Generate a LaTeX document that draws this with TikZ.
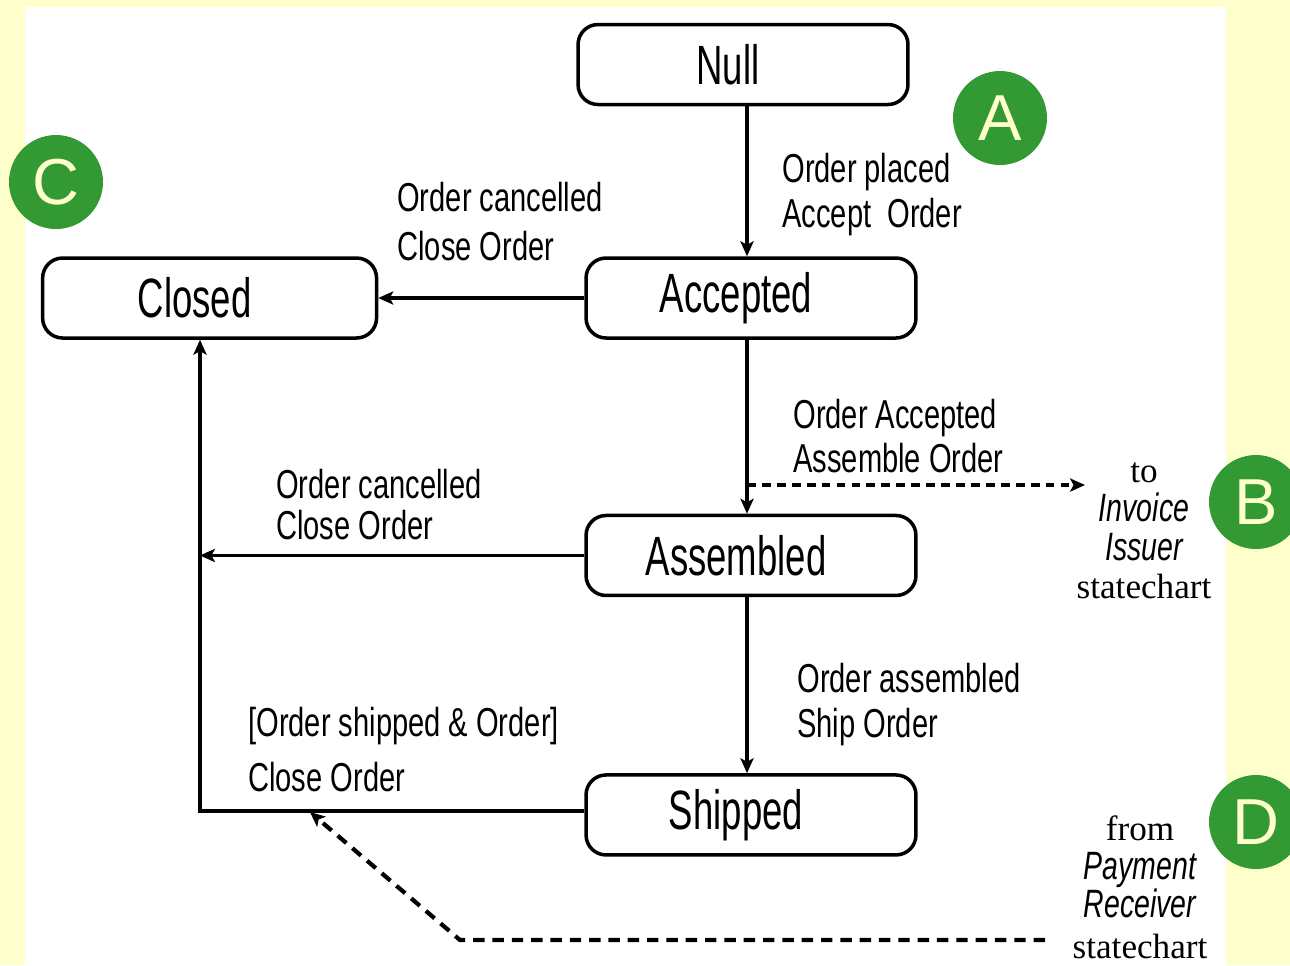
\documentclass[tikz,border=0pt]{standalone}
\usepackage{fontspec}
\usetikzlibrary{arrows.meta,positioning}
\newfontfamily\tilfont[FakeStretch=0.66]{Liberation Sans}
\newfontfamily\etifont[FakeStretch=0.72]{Liberation Sans}
\newfontfamily\serfont{Liberation Serif}
\newfontfamily\merkefont{Liberation Sans}
\definecolor{bleggul}{HTML}{FFFFCC}
\definecolor{merkegroen}{HTML}{339933}
\tikzset{
    >={Stealth[length=8.5pt,width=7.5pt,inset=2pt]},
    tilstand/.style={
           rectangle, rounded corners=0.4cm,
           draw=black, line width=2pt,
           minimum width=6.6cm, minimum height=1.6cm,
           inner sep=0pt,
           font=\tilfont\fontsize{31.5}{36}\selectfont,
           execute at begin node={\kern-0.6cm},
           text centered},
    pil/.style={
           ->,
           line width=1.8pt},
    stiplet/.style={
           ->,
           line width=1.8pt, dash pattern=on 5pt off 3.5pt},
    stiplettyk/.style={
           ->,
           line width=2.4pt, dash pattern=on 6.5pt off 4.5pt},
    etiket/.style={
           anchor=west, align=left, inner sep=0pt,
           font=\etifont\fontsize{23}{25.6}\selectfont},
    henvis/.style={
           align=center, inner sep=0pt,
           font=\serfont\fontsize{20}{22}\selectfont},
    merke/.style={
           circle, fill=merkegroen,
           minimum size=1.88cm, inner sep=0pt,
           text=bleggul,
           font=\merkefont\fontsize{37}{40}\selectfont}
}
\newcommand{\kursiv}[1]{{\etifont\itshape\fontsize{22.5}{22}\selectfont #1}}

\begin{document}
\begin{tikzpicture}[x=0.02cm, y=-0.02cm]
        \useasboundingbox (0,0) rectangle (1290,965);
        \fill[bleggul] (0,0) rectangle (1290,965);
        \fill[white] (25,7) rectangle (1226,965);

        % tilstander
        \node[tilstand] (acc) at (751,298) {Accepted};
        \node[tilstand, above=3.0cm of acc, xshift=-0.16cm] (null) {Null};
        \node[tilstand, left=4.12cm of acc, minimum width=6.68cm] (closed) {Closed};
        \node[tilstand, below=3.48cm of acc] (asm) {Assembled};
        \node[tilstand, below=3.52cm of asm] (shp) {Shipped};

        \coordinate (stamme) at (747,0);
        \coordinate (skinne) at (200,0);

        \draw[pil] (null.south -| stamme) -- (acc.north -| stamme);
        \draw[pil] (acc.west) -- (acc.west -| closed.east);
        \draw[pil] (acc.south -| stamme) -- (asm.north -| stamme);
        \draw[pil] (asm.south -| stamme) -- (shp.north -| stamme);
        \draw[pil] (asm.west) -- (asm.west -| skinne);
        \draw[pil] ([yshift=0.08cm]shp.west) -- ([yshift=0.08cm]shp.west -| skinne) -- (closed.south -| skinne);

        % etiketter
        \node[etiket] (lplaced) at (782,195) {Order placed\\Accept~~Order};
        \node[etiket] (lcanc1) at (397,222) {Order cancelled\\[2.3pt]Close Order};
        \node[etiket] (lacc) at (793,436) {Order Accepted\\[-1pt]Assemble Order};
        \node[etiket] (lcanc2) at (276,505) {Order cancelled\\[-2.3pt]Close Order};
        \node[etiket] (lasm) at (797,705) {Order assembled\\Ship Order};
        \node[etiket] (lshp) at (248,750) {[Order shipped \& Order]\\[5.7pt]Close Order};

        % andre statecharts
        \node[henvis] (invoice) at (1144,531) {to\\\kursiv{Invoice}\\\kursiv{Issuer}\\statechart};
        \node[henvis] (payment) at (1140,887) {from\\\kursiv{Payment}\\\kursiv{Receiver}\\[1pt]statechart};

        \coordinate (gren) at (747,485);
        \coordinate (tilinv) at (1085,485);
        \draw[stiplet] (gren) -- (tilinv);

        \coordinate (frapay) at (1045,940);
        \coordinate (knekk) at (460,940);
        \coordinate (treff) at (310,812);
        \draw[stiplettyk] (frapay) -- (knekk) -- (treff);

        % merker
        \node[merke] (ma) at (1000,118) {A};
        \node[merke] (mb) at (1256,502) {B};
        \node[merke] (mc) at (56,182) {C};
        \node[merke] (md) at (1256,822) {D};
    \end{tikzpicture}
\end{document}
